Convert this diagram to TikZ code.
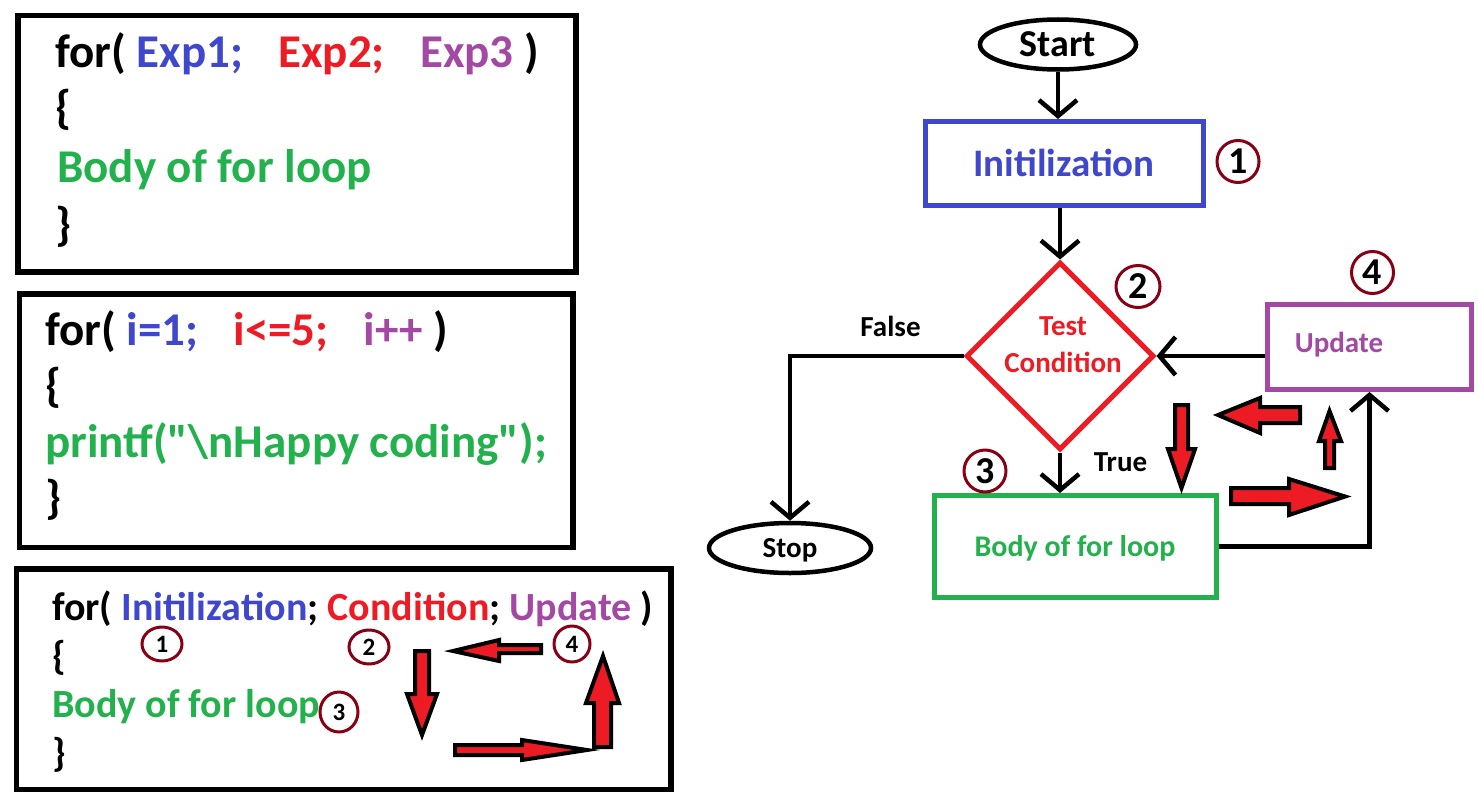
\documentclass[tikz,border=0pt]{standalone}
\usepackage{fontspec}
\setmainfont{Carlito}[Ligatures=TeXOff]
\usepackage{tikz}
\usetikzlibrary{positioning,shapes.geometric,arrows.meta}

\definecolor{pblue}{HTML}{3F48CC}
\definecolor{pred}{HTML}{ED1C24}
\definecolor{ppurple}{HTML}{A349A4}
\definecolor{pgreen}{HTML}{22B14C}
\definecolor{pdark}{HTML}{880015}
\newcommand{\bfsize}[2]{\bfseries\fontsize{#1}{#2}\selectfont}

\begin{document}
\begin{tikzpicture}[x=1pt,y=-1pt,
  panel/.style={draw=black,line width=5.5pt},
  code/.style={anchor=base west,inner sep=0pt,font=\bfsize{47}{50}},
  codesm/.style={anchor=base west,inner sep=0pt,font=\bfsize{40}{44}},
  flow/.style={draw=black,line width=4.5pt,-{Straight Barb[length=16pt,width=38pt]}},
  term/.style={ellipse,draw=black,line width=4.5pt,inner sep=0pt,text depth=0pt},
  procbox/.style={rectangle,draw,line width=5pt,inner sep=0pt,text depth=0pt},
  decision/.style={diamond,draw=pred,line width=5pt,minimum width=188pt,minimum height=188pt,inner sep=0pt},
  lbl/.style={anchor=base,inner sep=0pt,font=\bfsize{29}{37}},
  num/.style={ellipse,draw=pdark,line width=3pt,inner sep=0pt,minimum width=42pt,minimum height=42pt,text height=24pt,text depth=0pt,font=\bfsize{38}{40}},
  numsm/.style={ellipse,draw=pdark,line width=3pt,inner sep=0pt,text height=16pt,text depth=0pt,font=\bfsize{25}{28}},
  blk/.style={fill=pred,draw=black,line width=4pt}]

\useasboundingbox (0,0) rectangle (1479,800);

% general form
\draw[panel] (18,15.5) rectangle (576,272);
\node[code] (ga) at (55,67) {for( {\color{pblue}Exp1;}\hspace{.75em}{\color{pred}Exp2;}\hspace{.75em}{\color{ppurple}Exp3} )};
\node[code] (gb) at (55,123) {\{};
\node[code,text=pgreen] (gc) at (57,182) {Body of for loop};
\node[code] (gd) at (55,240) {\}};

% example
\draw[panel] (19.5,294) rectangle (573,547.5);
\node[code] (ea) at (45,345) {for( {\color{pblue}i=1;}\hspace{.75em}{\color{pred}i<=5;}\hspace{.75em}{\color{ppurple}i++} )};
\node[code] (eb) at (45,401) {\{};
\node[code,text=pgreen] (ec) at (45,457) {printf("\textbackslash nHappy coding");};
\node[code] (ed) at (45,513) {\}};

% parts and order
\draw[panel] (16.5,569) rectangle (671,789.5);
\node[codesm] (pa) at (52,620) {for( {\color{pblue}Initilization}; {\color{pred}Condition}; {\color{ppurple}Update} )};
\node[codesm] (pb) at (52,669) {\{};
\node[codesm,text=pgreen] (pc) at (52,717) {Body of for loop};
\node[codesm] (pd) at (52,766) {\}};
\node[numsm,minimum width=40pt,minimum height=34pt] (p1) at (162,644) {1};
\node[numsm,minimum width=40pt,minimum height=34pt] (p2) at (369,647) {2};
\node[numsm,minimum width=38pt,minimum height=40pt] (p3) at (339,712) {3};
\node[numsm,minimum width=36pt,minimum height=36pt] (p4) at (572,644) {4};
% red order arrows
\draw[blk] (415,651) -- (429,651) -- (429,694) -- (437,694) -- (422,735) -- (407,694) -- (415,694) -- cycle;
\draw[blk] (455,745) -- (522,745) -- (522,740) -- (587,750) -- (522,760) -- (522,755) -- (455,755) -- cycle;
\draw[blk] (594,747) -- (594,703) -- (586,703) -- (603,656) -- (619,703) -- (611,703) -- (611,747) -- cycle;
\draw[blk] (541,645) -- (499,645) -- (499,640) -- (453,651) -- (499,661) -- (499,653) -- (541,653) -- cycle;

% flowchart
\node[term,minimum width=156pt,minimum height=50pt,text height=24pt,font=\bfsize{38}{40}] (start) at (1058,44.5) {Start};
\node[procbox,draw=pblue,text=pblue,minimum width=278pt,minimum height=84pt,text height=25pt,font=\bfsize{39}{42}] (init) at (1064,163.5) {Initilization};
\node[decision] (cond) at (1060,356) {};
\node[lbl,anchor=center,text=pred,align=center] (condtxt) at (1063,345) {Test\\Condition};
\node[procbox,draw=pgreen,text=pgreen,minimum width=282pt,minimum height=102pt,text height=19pt,font=\bfsize{30}{34}] (body) at (1075,546.5) {Body of for loop};
\node[procbox,draw=ppurple,minimum width=204pt,minimum height=85pt] (update) at (1369.5,347) {};
\node[lbl,text=ppurple] (updtxt) at (1339,352) {Update};
\node[term,minimum width=162pt,minimum height=50pt,text height=18pt,font=\bfsize{29}{32}] (stop) at (790,548) {Stop};
\node[lbl] (false) at (890.5,336) {False};
\node[lbl] (true) at (1120.5,471) {True};

% step numbers
\node[num] (c1) at (1238,161.5) {1};
\node[num,minimum width=44pt] (c2) at (1138,286.5) {2};
\node[num] (c3) at (985,471) {3};
\node[num] (c4) at (1372.5,272.5) {4};

% connectors
\draw[flow] (start.south) -- (start.south |- init.north);
\draw[flow] (init.south -| cond.north) -- (cond.north);
\draw[flow] (cond.south) -- (cond.south |- body.north);
\draw[flow] (cond.west) -| (stop.north);
\draw[flow] (body.east) -| (update.south);
\draw[flow] (update.west |- cond.east) -- (cond.east);

% red order arrows
\draw[blk] (1175,405) -- (1188,405) -- (1188,449) -- (1195,449) -- (1181.5,488) -- (1168,449) -- (1175,449) -- cycle;
\draw[blk] (1231,488) -- (1289,488) -- (1289,479) -- (1345,496.5) -- (1289,515) -- (1289,504) -- (1231,504) -- cycle;
\draw[blk] (1325,468) -- (1325,441) -- (1319,441) -- (1329.5,411) -- (1341,441) -- (1334,441) -- (1334,468) -- cycle;
\draw[blk] (1300,407) -- (1260,407) -- (1260,398) -- (1218,415) -- (1260,433) -- (1260,423) -- (1300,423) -- cycle;
\end{tikzpicture}
\end{document}
